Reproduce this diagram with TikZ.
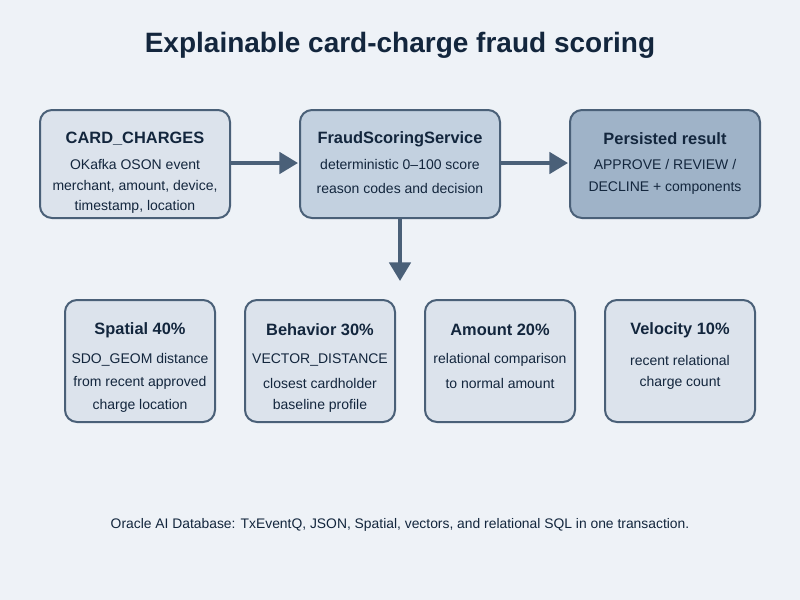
\documentclass[tikz,border=0pt]{standalone}
\usepackage{fontspec}
\setmainfont{Liberation Sans}
\usetikzlibrary{arrows.meta}
\definecolor{bg}{HTML}{EEF2F7}
\definecolor{bx}{HTML}{DCE3EC}
\definecolor{bxm}{HTML}{C3D1E0}
\definecolor{bxp}{HTML}{9FB3C8}
\definecolor{edge}{HTML}{4A6078}
\definecolor{ink}{HTML}{13263D}
\begin{document}
\begin{tikzpicture}[x=0.75pt,y=-0.75pt,
  box/.style={draw=edge,line width=1.5pt,rounded corners=9pt,fill=bx},
  ttl/.style={font=\bfseries\fontsize{12.3}{14}\selectfont,text=ink},
  txt/.style={font=\fontsize{10.5}{12}\selectfont,text=ink},
  arr/.style={draw=edge,line width=3pt,-{Triangle[length=14pt,width=16pt]}}]
\fill[bg] (0,0) rectangle (800,600);
\useasboundingbox (0,0) rectangle (800,600);
\node[font=\bfseries\fontsize{21}{24}\selectfont,text=ink] (title) at (400,45) {Explainable card-charge fraud scoring};
% top boxes
\draw[box] (40,110) rectangle (230,218); \coordinate (a) at (230,163);
\node[ttl] (a1) at (135,139) {CARD\_CHARGES};
\node[txt] (a2) at (135,164) {OKafka OSON event};
\node[txt] (a3) at (135,186) {merchant, amount, device,};
\node[txt] (a4) at (135,207) {timestamp, location};
\draw[box,fill=bxm] (300,110) rectangle (500,218);
\coordinate (bl) at (298,163); \coordinate (br) at (500,163); \coordinate (bb) at (400,218);
\node[ttl] (b1) at (400,139) {FraudScoringService};
\node[txt] (b2) at (400,164) {deterministic 0--100 score};
\node[txt] (b3) at (400,188) {reason codes and decision};
\draw[box,fill=bxp] (570,110) rectangle (760,218); \coordinate (cl) at (568,163);
\node[ttl] (c1) at (665,139) {Persisted result};
\node[txt] (c2) at (665,164) {APPROVE / REVIEW /};
\node[txt] (c3) at (665,188) {DECLINE + components};
\draw[arr] (a) -- (bl);
\draw[arr] (br) -- (cl);
\coordinate (dt) at (400,281);
\draw[arr] (bb) -- (dt);
% bottom boxes
\foreach \x/\n/\t/\l/\m/\k in {
 140/s/Spatial 40\%/SDO\_GEOM distance/from recent approved/charge location,
 320/h/Behavior 30\%/VECTOR\_DISTANCE/closest cardholder/baseline profile,
 500/m/Amount 20\%/relational comparison/to normal amount/,
 680/v/Velocity 10\%/recent relational/charge count/}{
 \draw[box] (\x-75,300) rectangle (\x+75,422);
 \node[ttl] (\n1) at (\x,330) {\t};
 \node[txt] (\n2) at (\x,360) {\l};
 \node[txt] (\n3) at (\x,383) {\m};
 \node[txt] (\n4) at (\x,406) {\k};
}
\node[txt,font=\fontsize{10.4}{12}\selectfont] (foot) at (400,525) {Oracle AI Database: TxEventQ, JSON, Spatial, vectors, and relational SQL in one transaction.};
\end{tikzpicture}
\end{document}
